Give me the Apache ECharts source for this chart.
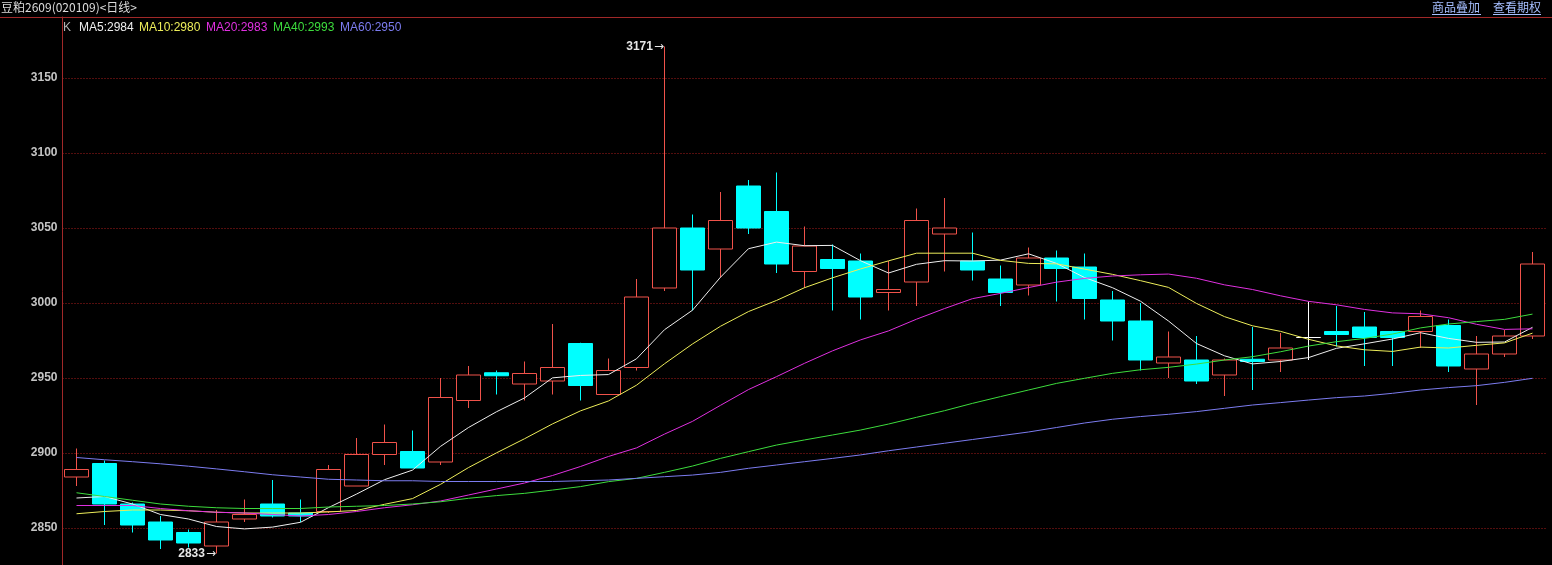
<!DOCTYPE html>
<html>
<head>
<meta charset="utf-8">
<style>
html,body{margin:0;padding:0;background:#000;}
#chart{width:1552px;height:565px;}
</style>
<script src="https://cdn.jsdelivr.net/npm/echarts@6/dist/echarts.min.js"></script>
</head>
<body>
<div id="chart"></div>
<script>
// ---- data ----
const categories = ['1','2','3','4','5','6','7','8','9','10','11','12','13','14','15','16','17','18','19','20',
  '21','22','23','24','25','26','27','28','29','30','31','32','33','34','35','36','37','38','39','40',
  '41','42','43','44','45','46','47','48','49','50','51','52','53'];

const openPrices = [2884, 2893, 2866, 2854, 2847, 2838, 2856, 2866, 2860, 2861,
  2878, 2899, 2901, 2894, 2935, 2953.5, 2946, 2948, 2973, 2939,
  2957, 3010, 3050, 3036, 3078, 3061, 3021, 3029, 3028, 3007,
  3014, 3046, 3028, 3016, 3012, 3030, 3024, 3002, 2988, 2960,
  2962, 2952, 2962.5, 2962, 2977, 2981, 2984, 2981, 2981, 2985,
  2956, 2966, 2978];
const closePrices = [2889, 2866, 2852, 2842, 2840, 2854, 2859, 2858, 2858, 2889,
  2899, 2907, 2890, 2937, 2952, 2951.5, 2953, 2957, 2945, 2955,
  3004, 3050, 3022, 3055, 3050, 3026, 3038, 3023, 3004, 3009,
  3055, 3050, 3022, 3007, 3030, 3023, 3003, 2988, 2962, 2964,
  2948, 2962, 2961, 2970, 2977, 2979, 2977, 2977, 2991, 2958,
  2966, 2978, 3026];
const lowPrices = [2878, 2852, 2847, 2836, 2837, 2833, 2854, 2857, 2854, 2860,
  2878, 2892, 2890, 2892, 2930, 2939, 2935, 2939, 2935, 2939,
  2955, 3008, 2995, 3017, 3046, 3020, 3010, 2995, 2989, 2995,
  2998, 3021, 3015, 2998, 3005, 3001, 2989, 2975, 2955, 2950,
  2946, 2938, 2942, 2954, 2962, 2971, 2958, 2958, 2970, 2954,
  2932, 2964, 2976];
const highPrices = [2903, 2895, 2867, 2858, 2849, 2862, 2869, 2882, 2869, 2892,
  2910, 2919, 2915, 2950, 2958, 2955, 2961, 2986, 2973.5, 2963,
  3016, 3171, 3059, 3074, 3082, 3087, 3051, 3039, 3033, 3028,
  3063, 3070, 3047, 3025, 3037, 3035, 3033, 3008, 3000, 2981,
  2978, 2963, 2984, 2980, 3001, 2998, 2994, 2981.5, 2995, 2989,
  2978, 2982, 3034];

const ma5 = [2870, 2871, 2866, 2859, 2856, 2851, 2849.4, 2850.6, 2853.8, 2863.6,
  2872.6, 2882.2, 2888.6, 2904.4, 2917, 2927.5, 2936.7, 2950.1, 2951.7, 2952.3,
  2962.8, 2982.2, 2995.2, 3017.2, 3036.2, 3040.6, 3038.2, 3038.4, 3028.2, 3020,
  3025.8, 3028.2, 3028, 3028.6, 3032.8, 3026.4, 3017, 3010.2, 3001.2, 2988,
  2973, 2964.8, 2959.4, 2961, 2963.6, 2969.8, 2972.8, 2976, 2980.2, 2976.4,
  2973.8, 2974, 2983.8];
const ma10 = [2859.5, 2861, 2862, 2862, 2861.5, 2860.5, 2860, 2860, 2860, 2860.7,
  2861.7, 2865.8, 2869.6, 2879.1, 2890.3, 2900.1, 2909.5, 2919.4, 2928.1, 2934.7,
  2945.2, 2959.5, 2972.7, 2984.5, 2994.3, 3001.7, 3010.2, 3016.8, 3022.7, 3028.1,
  3033.2, 3033.2, 3033.2, 3028.4, 3026.4, 3026.1, 3022.6, 3019.1, 3014.9, 3010.4,
  2999.7, 2990.9, 2984.8, 2981.1, 2975.8, 2971.4, 2968.8, 2967.7, 2970.6, 2970,
  2971.8, 2973.4, 2979.9];
const ma20 = [2865, 2865, 2865, 2863, 2861.5, 2860.5, 2860, 2859, 2858, 2859,
  2861, 2863.5, 2865.5, 2868, 2872, 2876, 2880, 2885, 2891, 2897.7,
  2903.4, 2912.6, 2921.1, 2931.8, 2942.3, 2950.9, 2959.8, 2968.1, 2975.4, 2981.4,
  2989.2, 2996.3, 3002.9, 3006.4, 3010.3, 3013.9, 3016.4, 3018, 3018.8, 3019.3,
  3016.5, 3012.1, 3009, 3004.8, 3001.1, 2998.8, 2995.7, 2993.4, 2992.8, 2990.2,
  2985.8, 2982.4, 2982.8];
const ma40 = [2873.5, 2871, 2868.5, 2866, 2864.5, 2863.5, 2863, 2863, 2863, 2864,
  2864.5, 2865, 2866, 2867.5, 2869.8, 2871.6, 2873.1, 2875.3, 2877.6, 2880.9,
  2883.1, 2887.1, 2891.3, 2896.4, 2900.9, 2905.3, 2908.7, 2912, 2915.3, 2919.3,
  2923.8, 2928.2, 2933.1, 2937.6, 2942, 2946.4, 2949.8, 2953.1, 2955.5, 2957.1,
  2959.3, 2962, 2964.2, 2967.5, 2971.3, 2974.2, 2976.4, 2979.3, 2983.4, 2986,
  2987.6, 2989.1, 2992.6];
const ma60 = [2897, 2895.5, 2894.2, 2892.8, 2891.2, 2889.4, 2887.5, 2885.5, 2884, 2882.5,
  2882, 2881.5, 2881.5, 2881, 2881, 2881, 2881, 2881, 2881.5, 2882,
  2883.1, 2884.2, 2885.3, 2887.1, 2889.8, 2892, 2894.2, 2896.4, 2898.7, 2901.5,
  2904, 2906.5, 2909, 2911.5, 2914, 2917, 2920, 2922.5, 2924.3, 2925.8,
  2927.6, 2929.8, 2932, 2933.6, 2935.3, 2936.9, 2938, 2939.8, 2942, 2943.6,
  2944.9, 2947.1, 2949.8];

const titleText = '豆粕2609(020109)<日线>';
const linkTexts = ['商品叠加', '查看期权'];
const legendItems = [
  {name: 'MA5', value: '2984'},
  {name: 'MA10', value: '2980'},
  {name: 'MA20', value: '2983'},
  {name: 'MA40', value: '2993'},
  {name: 'MA60', value: '2950'}
];

// ---- styles ----
const UP = '#f0524a';
const DOWN = '#00ffff';
const DOJI = '#ffffff';
const maColors = ['#eeeeee', '#eded5a', '#e030e0', '#3ddc3d', '#7c7cf0'];
const legendX = [79, 139, 206, 273, 340];
const FRAME = '#a02828';

const kData = openPrices.map((o, i) => {
  const item = {value: [o, closePrices[i], lowPrices[i], highPrices[i]]};
  if (o === closePrices[i]) {
    item.itemStyle = {color: DOJI, color0: DOJI, borderColor: DOJI, borderColor0: DOJI};
  }
  return item;
});

const maxHigh = Math.max(...highPrices);
const hiIdx = highPrices.indexOf(maxHigh);
const minLow = Math.min(...lowPrices);
const loIdx = lowPrices.indexOf(minLow);

const markLabel = (v) => ({
  show: true,
  position: 'left',
  distance: 0,
  formatter: '{n|' + v + '}{a|→}',
  rich: {
    n: {fontFamily: 'Liberation Sans', fontWeight: 'bold', fontSize: 12, color: '#e6e6e6'},
    a: {fontFamily: 'DejaVu Sans', fontSize: 12, color: '#e6e6e6', padding: [0, 0, 0, 1]}
  }
});

const maSeries = [ma5, ma10, ma20, ma40, ma60].map((arr, k) => ({
  name: legendItems[k].name,
  type: 'line',
  data: arr,
  showSymbol: false,
  symbol: 'none',
  smooth: false,
  lineStyle: {width: 1, color: maColors[k]},
  z: 3 + k,
  silent: true
}));

const legendGraphics = [{
  type: 'text', left: 63, top: 22,
  style: {text: 'K', fill: '#b4b4b4', font: '12px "Liberation Sans"'}
}].concat(legendItems.map((it, k) => ({
  type: 'text', left: legendX[k], top: 22,
  style: {text: it.name + ':' + it.value, fill: maColors[k], font: '12px "Liberation Sans"'}
})));

const chart = echarts.init(document.getElementById('chart'), null, {renderer: 'canvas'});
chart.setOption({
  backgroundColor: '#000000',
  animation: false,
  grid: {left: 62.5, top: 17, width: 1484, height: 586, containLabel: false, outerBoundsMode: 'none'},
  xAxis: {
    type: 'category',
    data: categories,
    boundaryGap: true,
    axisLine: {show: false},
    axisTick: {show: false},
    axisLabel: {show: false},
    splitLine: {show: false}
  },
  yAxis: {
    type: 'value',
    min: 2800,
    max: 3190.667,
    interval: 50,
    axisLine: {show: true, lineStyle: {color: FRAME, width: 1}},
    axisTick: {show: false},
    axisLabel: {
      show: true,
      margin: 5,
      showMaxLabel: false,
      color: '#c4c4c4',
      fontFamily: 'Liberation Sans',
      fontWeight: 'bold',
      fontSize: 12,
      formatter: (v) => String(Math.round(v))
    },
    splitLine: {show: true, lineStyle: {color: '#a81c1c', width: 1, type: [1, 2]}}
  },
  series: [{
    name: 'K',
    type: 'candlestick',
    data: kData,
    barWidth: 24,
    z: 2,
    itemStyle: {
      color: '#000000',
      color0: DOWN,
      borderColor: UP,
      borderColor0: DOWN,
      borderWidth: 1
    },
    markPoint: {
      symbol: 'circle',
      symbolSize: 1,
      itemStyle: {color: 'rgba(0,0,0,0)'},
      silent: true,
      data: [
        {coord: [categories[hiIdx], maxHigh], label: markLabel(maxHigh)},
        {coord: [categories[loIdx], minLow], label: markLabel(minLow)}
      ]
    }
  }].concat(maSeries),
  graphic: [
    {type: 'text', left: 1, top: 1, style: {text: titleText, fill: '#dcdcdc', font: '12px "Noto Sans CJK SC"'}},
    {type: 'line', shape: {x1: 0, y1: 17.5, x2: 1552, y2: 17.5}, style: {stroke: FRAME, lineWidth: 1}, z: 10},
    {type: 'text', left: 1432, top: 1, style: {text: linkTexts[0], fill: '#a6bfff', font: '12px "Noto Sans CJK SC"'}},
    {type: 'line', shape: {x1: 1432, y1: 14.5, x2: 1481, y2: 14.5}, style: {stroke: '#a6bfff', lineWidth: 1}},
    {type: 'text', left: 1493, top: 1, style: {text: linkTexts[1], fill: '#a6bfff', font: '12px "Noto Sans CJK SC"'}},
    {type: 'line', shape: {x1: 1493, y1: 14.5, x2: 1541, y2: 14.5}, style: {stroke: '#a6bfff', lineWidth: 1}}
  ].concat(legendGraphics)
});
</script>
</body>
</html>
